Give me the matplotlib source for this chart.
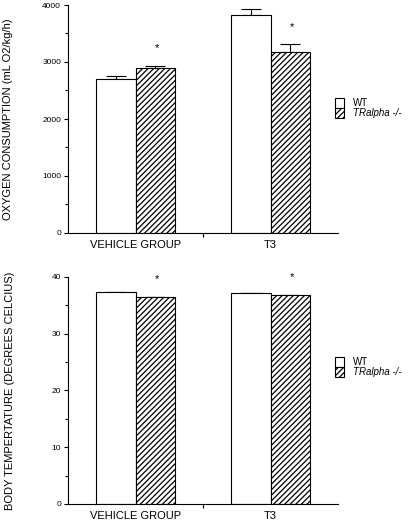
import matplotlib
matplotlib.use("Agg")
import matplotlib.pyplot as plt
from matplotlib.patches import Patch
import numpy as np

plt.rcParams['font.family'] = ['Liberation Sans', 'DejaVu Sans']
plt.rcParams['hatch.linewidth'] = 0.9

categories = ["VEHICLE GROUP", "T3"]
series = ["WT", "TRalpha -/-"]

oxygen_wt = [2710, 3820]
oxygen_wt_err = [50, 110]
oxygen_ko = [2890, 3170]
oxygen_ko_err = [45, 140]

temp_wt = [37.25, 37.07]
temp_wt_err = [0.12, 0.05]
temp_ko = [36.4, 36.7]
temp_ko_err = [0.08, 0.08]

oxy_ticks = [0, 1000, 2000, 3000, 4000]
temp_ticks = [0, 10, 20, 30, 40]

W, H = 412, 524
fig = plt.figure(figsize=(W / 100, H / 100), dpi=100)

def axes_px(left, top, right, bottom):
    return fig.add_axes([left / W, 1 - bottom / H, (right - left) / W, (bottom - top) / H])

ax1 = axes_px(68, 5, 338, 233)
ax2 = axes_px(68, 276.7, 338, 504)

centers = np.array([0.5, 1.5])
bw = 0.296
HATCH = '//////'

def draw(ax, wt, wt_err, ko, ko_err, ticks, minor_step, ylabel, label_x):
    x_wt = centers - bw / 2
    x_ko = centers + bw / 2
    ax.bar(x_wt, wt, bw, color='white', edgecolor='black', linewidth=0.8, zorder=2)
    ax.bar(x_ko, ko, bw, color='white', edgecolor='black', hatch=HATCH, linewidth=0.8, zorder=2)
    ax.errorbar(x_wt, wt, yerr=[np.zeros(len(wt)), wt_err], fmt='none', ecolor='black',
                elinewidth=0.8, capsize=7, capthick=0.8, zorder=1)
    ax.errorbar(x_ko, ko, yerr=[np.zeros(len(ko)), ko_err], fmt='none', ecolor='black',
                elinewidth=0.8, capsize=7, capthick=0.8, zorder=1)
    for xi, yi, ei in zip(x_ko, ko, ko_err):
        ax.annotate('*', xy=(xi, yi + ei), xytext=(1, 9), textcoords='offset points',
                    ha='center', va='bottom', fontsize=8)
    ax.set_xlim(0, 2)
    ax.set_ylim(ticks[0], ticks[-1])
    ax.set_yticks(ticks)
    ax.set_yticks(np.arange(ticks[0], ticks[-1] + 1e-9, minor_step), minor=True)
    ax.set_yticklabels([str(t) for t in ticks], fontsize=6)
    ax.set_xticks([1.0])
    ax.set_xticklabels([''])
    ax.set_xticks(centers, minor=True)
    ax.set_xticklabels(categories, minor=True, fontsize=8)
    ax.tick_params(axis='x', which='minor', length=0, pad=5)
    ax.tick_params(axis='x', which='major', length=3, width=0.8, direction='out')
    ax.tick_params(axis='y', which='major', length=3, width=0.8, direction='out', pad=2)
    ax.tick_params(axis='y', which='minor', length=2, width=0.8, direction='out')
    for s in ['top', 'right']:
        ax.spines[s].set_visible(False)
    for s in ['left', 'bottom']:
        ax.spines[s].set_linewidth(0.8)
    ax.set_ylabel(ylabel, fontsize=8)
    ax.yaxis.set_label_coords(label_x / 270, 0.5)

draw(ax1, oxygen_wt, oxygen_wt_err, oxygen_ko, oxygen_ko_err, oxy_ticks, 500,
     "OXYGEN CONSUMPTION (mL O2/kg/h)", -55)
draw(ax2, temp_wt, temp_wt_err, temp_ko, temp_ko_err, temp_ticks, 5,
     "BODY TEMPERTATURE (DEGREES CELCIUS)", -53)

def add_legend(top_px):
    handles = [Patch(facecolor='white', edgecolor='black', linewidth=0.8),
               Patch(facecolor='white', edgecolor='black', hatch=HATCH, linewidth=0.8)]
    leg = fig.legend(handles, series, loc='upper left',
                     bbox_to_anchor=(333 / W, 1 - (top_px - 3) / H),
                     frameon=False, fontsize=7, handlelength=0.95, handleheight=1.15,
                     handletextpad=0.9, labelspacing=0.0, borderpad=0.2,
                     borderaxespad=0.0)
    leg.get_texts()[1].set_fontstyle('italic')

add_legend(99)
add_legend(358)

fig.savefig("out.png", dpi=100)
